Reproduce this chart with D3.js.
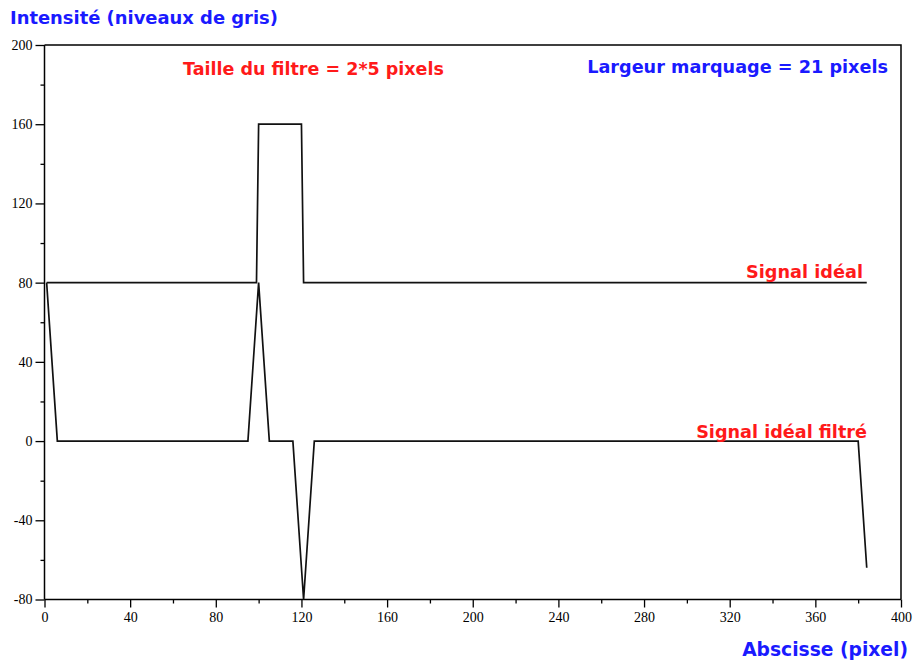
<!DOCTYPE html>
<html><head><meta charset="utf-8">
<script src="https://cdn.jsdelivr.net/npm/d3@7"></script>
<style>
html,body{margin:0;padding:0;background:#fff;}
svg{display:block;}
.tick text{font-family:"Liberation Serif","DejaVu Serif",serif;font-size:14px;fill:#000;}
.lbl{font-family:"DejaVu Sans",Verdana,sans-serif;font-weight:bold;font-size:17px;}
</style>
</head><body>
<svg id="chart" width="916" height="664"></svg>
<script>
// Data (vertices)
const idealX = [1, 99, 100, 120, 121, 384];
const idealY = [80, 80, 160, 160, 80, 80];
const filtX = [1, 6, 95, 100, 105, 116, 121, 126, 380, 384];
const filtY = [80, 0, 0, 80, 0, 0, -80, 0, 0, -64];
const xTicks = [0, 40, 80, 120, 160, 200, 240, 280, 320, 360, 400];
const xMinor = [20, 60, 100, 140, 180, 220, 260, 300, 340, 380];
const yTicks = [-80, -40, 0, 40, 80, 120, 160, 200];
const yMinor = [-60, -20, 20, 60, 100, 140, 180];

const svg = d3.select("#chart");
const L = 44.5, R = 901, T = 45, B = 599.5;
const x = d3.scaleLinear().domain([0, 400]).range([L, R]);
const y = d3.scaleLinear().domain([-80, 200]).range([B, T]);

// frame (top and right)
svg.append("path").attr("d", `M${L},${T}H${R}V${B}`).attr("fill","none").attr("stroke","#000").attr("stroke-width",1.5);

const fmt = d => String(d);
// x axis
const xAxis = svg.append("g").attr("transform", `translate(0,${B})`)
  .call(d3.axisBottom(x).tickValues(xTicks).tickFormat(fmt).tickSize(8).tickPadding(5));
const xMin = svg.append("g").attr("transform", `translate(0,${B})`)
  .call(d3.axisBottom(x).tickValues(xMinor).tickFormat("").tickSize(4));
// y axis
const yAxis = svg.append("g").attr("transform", `translate(${L},0)`)
  .call(d3.axisLeft(y).tickValues(yTicks).tickFormat(fmt).tickSize(9).tickPadding(3));
const yMin = svg.append("g").attr("transform", `translate(${L},0)`)
  .call(d3.axisLeft(y).tickValues(yMinor).tickFormat("").tickSize(4));
svg.selectAll(".domain").attr("stroke","#000").attr("stroke-width",1.5);
svg.selectAll(".tick line").attr("stroke","#000").attr("stroke-width",1.3);
xAxis.select(".domain").attr("d", `M${L},0H${R}`);
xMin.select(".domain").remove();
yAxis.select(".domain").attr("d", `M0,${B}V${T}`);
yMin.select(".domain").remove();

// lines
const line = d3.line().x(d => x(d[0])).y(d => y(d[1]));
svg.append("path").datum(d3.zip(idealX, idealY)).attr("d", line)
  .attr("fill","none").attr("stroke","#111").attr("stroke-width",1.7);
svg.append("path").datum(d3.zip(filtX, filtY)).attr("d", line)
  .attr("fill","none").attr("stroke","#111").attr("stroke-width",1.7);

// labels
const blue = "#1a1aff", red = "#ff1a1a";
const labels = [
  {t:"Intensité (niveaux de gris)", x:10, y:24, a:"start", c:blue, w:268},
  {t:"Abscisse (pixel)", x:908, y:656, a:"end", c:blue, w:166},
  {t:"Taille du filtre = 2*5 pixels", x:183, y:75, a:"start", c:red, w:261},
  {t:"Largeur marquage = 21 pixels", x:888, y:73, a:"end", c:blue, w:301},
  {t:"Signal idéal", x:863, y:278, a:"end", c:red, w:117},
  {t:"Signal idéal filtré", x:867, y:438, a:"end", c:red, w:171}
];
labels.forEach(l => {
  const el = svg.append("text").attr("class","lbl").attr("x",l.x).attr("y",l.y)
    .attr("text-anchor",l.a).attr("fill",l.c).text(l.t);
  const w = el.node().getComputedTextLength();
  if (w > 0) el.style("font-size", (17 * l.w / w).toFixed(2) + "px");
});
</script>
</body></html>
